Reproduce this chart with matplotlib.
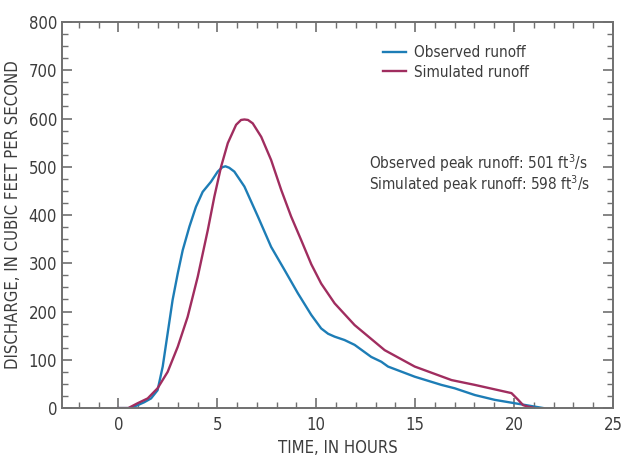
import numpy as np
import matplotlib.pyplot as plt
from matplotlib.ticker import MultipleLocator

# Hydrograph data (hours, cubic feet per second)
obs_hours = [0, 0.6, 0.97, 1.3, 1.65, 1.98, 2.24, 2.49, 2.74, 3.0, 3.25, 3.59, 3.92,
             4.26, 4.68, 5.02, 5.25, 5.41, 5.6, 5.86, 6.37, 7.05, 7.72, 8.4, 9.07,
             9.75, 10.25, 10.6, 10.93, 11.43, 11.94, 12.78, 13.29, 13.63, 14.98,
             16.33, 17.0, 18.02, 19.03, 20.04, 21.05, 21.48]
obs_flow = [0, 0, 6, 12, 20, 37, 86, 155, 224, 279, 327, 376, 417,
            448, 469, 490, 499, 501, 498, 490, 459, 397, 334, 286, 238,
            193, 165, 154, 148, 141, 131, 106, 96, 86, 65,
            48, 41, 27, 17, 10, 3, 0]

sim_hours = [0, 0.5, 0.97, 1.48, 1.98, 2.49, 3.0, 3.5, 4.01, 4.52, 4.85, 5.19, 5.53,
             5.95, 6.2, 6.37, 6.55, 6.79, 7.22, 7.72, 8.23, 8.73, 9.24, 9.75, 10.25,
             10.93, 11.94, 13.46, 14.98, 16.84, 18.02, 19.87, 20.21, 20.46, 20.71, 21.05]
sim_flow = [0, 0, 10, 20, 41, 75, 127, 189, 272, 369, 438, 500, 549,
            587, 597, 598, 597, 590, 562, 514, 452, 397, 348, 298, 258,
            217, 172, 120, 86, 58, 48, 31, 17, 6, 3, 0]

obs_peak = 501
sim_peak = 598

blue = '#1d7db6'
purple = '#a02d5f'
grey = '#3c3c3c'
axis_grey = '#707070'

plt.rcParams['font.family'] = ['DejaVu Sans']
plt.rcParams['font.stretch'] = 'condensed'

fig = plt.figure(figsize=(6.22, 4.58), dpi=100)
ax = fig.add_axes([0.0997, 0.109, 0.8858, 0.843])

ax.plot(obs_hours, obs_flow, color=blue, linewidth=1.7, solid_joinstyle='round',
        label='Observed runoff')
ax.plot(sim_hours, sim_flow, color=purple, linewidth=1.7, solid_joinstyle='round',
        label='Simulated runoff')

ax.set_xlim(-2.85, 25)
ax.set_ylim(0, 800)
ax.xaxis.set_major_locator(MultipleLocator(5))
ax.xaxis.set_minor_locator(MultipleLocator(1))
ax.yaxis.set_major_locator(MultipleLocator(100))
ax.yaxis.set_minor_locator(MultipleLocator(25))
ax.tick_params(which='both', direction='in', top=True, right=True, color=axis_grey,
               labelcolor=grey, labelsize=12)
ax.tick_params(which='major', length=7, width=1.2)
ax.tick_params(which='minor', length=4, width=1.0)
ax.tick_params(axis='x', pad=6)
for s in ax.spines.values():
    s.set_color(axis_grey)
    s.set_linewidth(1.4)

ax.set_xlabel('TIME, IN HOURS', fontsize=12, color=grey, labelpad=3)
ax.set_ylabel('DISCHARGE, IN CUBIC FEET PER SECOND', fontsize=12, color=grey, labelpad=5)

leg = ax.legend(loc='upper left', bbox_to_anchor=(0.583, 0.94), frameon=False,
                fontsize=11, handlelength=1.5, handletextpad=0.5, labelspacing=0.3,
                borderpad=0, borderaxespad=0)
for t in leg.get_texts():
    t.set_color(grey)

ax.text(0.557, 0.634, f'Observed peak runoff: {obs_peak} ft$^3$/s',
        transform=ax.transAxes, fontsize=11, color=grey, va='center')
ax.text(0.557, 0.579, f'Simulated peak runoff: {sim_peak} ft$^3$/s',
        transform=ax.transAxes, fontsize=11, color=grey, va='center')

fig.savefig('out.png', dpi=100)
